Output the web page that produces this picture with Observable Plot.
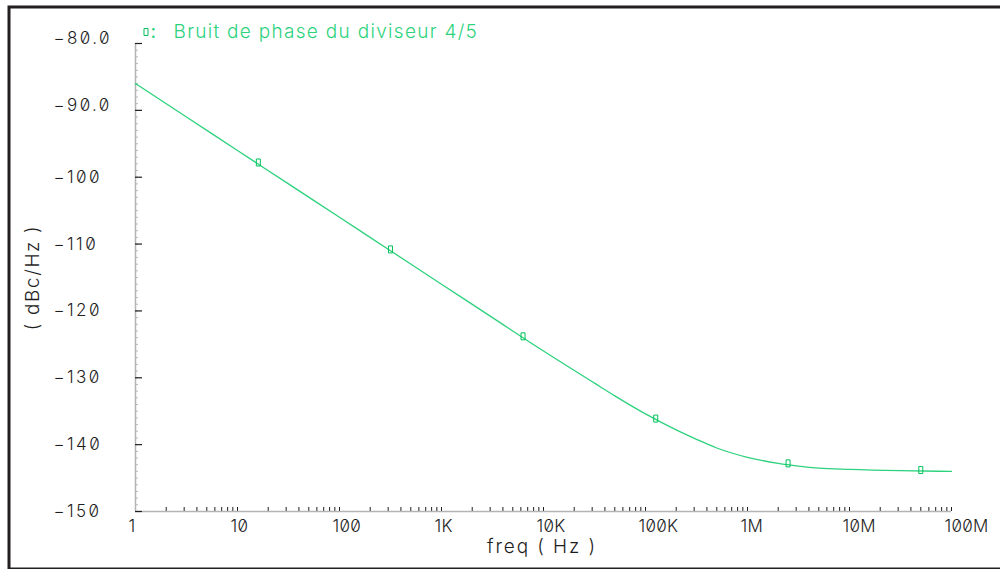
<!DOCTYPE html>
<html><head><meta charset="utf-8">
<script src="https://cdn.jsdelivr.net/npm/d3@7"></script>
<script src="https://cdn.jsdelivr.net/npm/@observablehq/plot@0.6"></script>
<style>
html,body{margin:0;padding:0;background:#fff;overflow:hidden;}
#chart svg, #chart svg text{font-variant-numeric: slashed-zero !important; font-feature-settings:"zero" 1 !important;}
#chart g[aria-label="y-axis tick label"] text{letter-spacing:2.4px;}
#chart g[aria-label="x-axis tick label"] text{letter-spacing:0.3px;}
#chart g[aria-description="legend"] text{letter-spacing:1.3px;}
#chart g[aria-description="x-title"] text{letter-spacing:1.9px;}
#chart g[aria-description="y-title"] text{letter-spacing:1.6px;}
</style></head><body><div id="chart"></div>
<script>
// Curve: phase noise vs frequency
const freq  = [1, 3.16, 10, 31.6, 100, 316, 1e3, 3.16e3, 1e4, 3.16e4, 5e4, 1e5, 2e5, 3.16e5, 5e5, 1e6, 2e6, 3.16e6, 5e6, 1e7, 3.16e7, 1e8];
const noise = [-86.0, -91.0, -96.0, -101.0, -106.0, -111.0, -116.0, -121.0, -126.0, -130.8, -132.7, -135.4, -137.8, -139.2, -140.5, -141.9, -142.8, -143.2, -143.5, -143.7, -143.9, -144.0];
// Markers on the curve
const markerFreq  = [16, 316, 6.3e3, 1.26e5, 2.5e6, 5e7];
const markerNoise = [-97.8, -110.8, -123.8, -136.1, -142.8, -143.8];
// Ticks
const xTickValues = [1, 10, 100, 1e3, 1e4, 1e5, 1e6, 1e7, 1e8];
const xTickLabels = ["1", "10", "100", "1K", "10K", "100K", "1M", "10M", "100M"];
const yTickValues = [-80, -90, -100, -110, -120, -130, -140, -150];
const yTickLabels = ["\u221280.0", "\u221290.0", "\u2212100", "\u2212110", "\u2212120", "\u2212130", "\u2212140", "\u2212150"];
const seriesName = "Bruit de phase du diviseur 4/5";
const xTitle = "freq ( Hz )";
const yTitle = "( dBc/Hz )";

const data = freq.map((f, i) => ({f, v: noise[i]}));
const markers = markerFreq.map((f, i) => ({f, v: markerNoise[i]}));
const xLab = new Map(xTickValues.map((d, i) => [d, xTickLabels[i]]));
const yLab = new Map(yTickValues.map((d, i) => [d, yTickLabels[i]]));

const xMinor = [];
for (let k = 0; k < 8; k++) for (let m = 1; m <= 9; m++) xMinor.push(m * Math.pow(10, k));
xMinor.push(1e8);
const yMinor = d3.range(-150, -79, 1);

const W = 1000, H = 569, mL = 135, mR = 49, mT = 43, mB = 58;
const pw = W - mL - mR, ph = H - mT - mB;

const rectSymbol = {draw(ctx) { ctx.rect(-2, -3.5, 4, 7); }};
const green = "#2dd27d", markGreen = "#00c05a", ink = "#1e1e1e";
const font = "Inter, 'Open Sans', sans-serif";

const chart = Plot.plot({
  width: W, height: H,
  marginLeft: mL, marginRight: mR, marginTop: mT, marginBottom: mB,
  style: {fontFamily: font, background: "#fff", color: ink, overflow: "hidden"},
  x: {type: "log", domain: [1, 1e8], axis: null},
  y: {domain: [-150, -80], axis: null},
  marks: [
    Plot.frame({stroke: "#231f20", strokeWidth: 3, insetLeft: -126.5, insetTop: -36.5, insetBottom: -57.5, insetRight: -60}),
    Plot.ruleY(yMinor, {stroke: "#b8b8b8", strokeWidth: 1, insetRight: pw - 3}),
    Plot.ruleX(xMinor, {stroke: ink, strokeWidth: 1, insetTop: ph - 4}),
    Plot.ruleX([1], {stroke: "#b4b4b4", strokeWidth: 1.5}),
    Plot.ruleY([-150], {stroke: "#b4b4b4", strokeWidth: 1.5}),
    Plot.ruleY(yTickValues, {stroke: ink, strokeWidth: 1.2, insetRight: pw - 7}),
    Plot.axisY(yTickValues.slice(0, 2), {tickSize: 0, tickPadding: 0, textAnchor: "start", dx: -82, dy: -5, fontSize: 17, fontWeight: 300, tickFormat: d => yLab.get(d), fill: ink, label: null}),
    Plot.axisY(yTickValues.slice(2), {tickSize: 0, tickPadding: 0, textAnchor: "start", dx: -82, dy: 0, fontSize: 17, fontWeight: 300, tickFormat: d => yLab.get(d), fill: ink, label: null}),
    Plot.axisX(xTickValues, {tickSize: 0, tickPadding: 8, textAnchor: "start", dx: -7, fontSize: 17, fontWeight: 300, tickFormat: d => xLab.get(d), fill: ink, label: null}),
    Plot.line(data, {x: "f", y: "v", stroke: green, strokeWidth: 1.3, curve: "monotone-x"}),
    Plot.dot(markers, {x: "f", y: "v", symbol: rectSymbol, stroke: markGreen, strokeWidth: 1, fill: "none"}),
    Plot.dot([seriesName], {frameAnchor: "top-left", dx: 10.5, dy: -11.5, symbol: rectSymbol, stroke: markGreen, strokeWidth: 1, fill: "none"}),
    Plot.text([":"], {frameAnchor: "top-left", textAnchor: "start", lineAnchor: "bottom", dx: 15, dy: -6, fill: green, fontSize: 19}),
    Plot.text([seriesName], {ariaDescription: "legend", frameAnchor: "top-left", textAnchor: "start", lineAnchor: "bottom", dx: 38, dy: -6, fill: green, fontSize: 19, fontWeight: 300}),
    Plot.text([xTitle], {ariaDescription: "x-title", frameAnchor: "bottom", textAnchor: "middle", lineAnchor: "middle", dx: -1.5, dy: 35, fill: ink, fontSize: 19, fontWeight: 300}),
    Plot.text([yTitle], {ariaDescription: "y-title", frameAnchor: "left", textAnchor: "middle", rotate: -90, lineAnchor: "middle", dx: -103, fill: ink, fontSize: 19, fontWeight: 300})
  ]
});
document.getElementById("chart").append(chart);
</script></body></html>
